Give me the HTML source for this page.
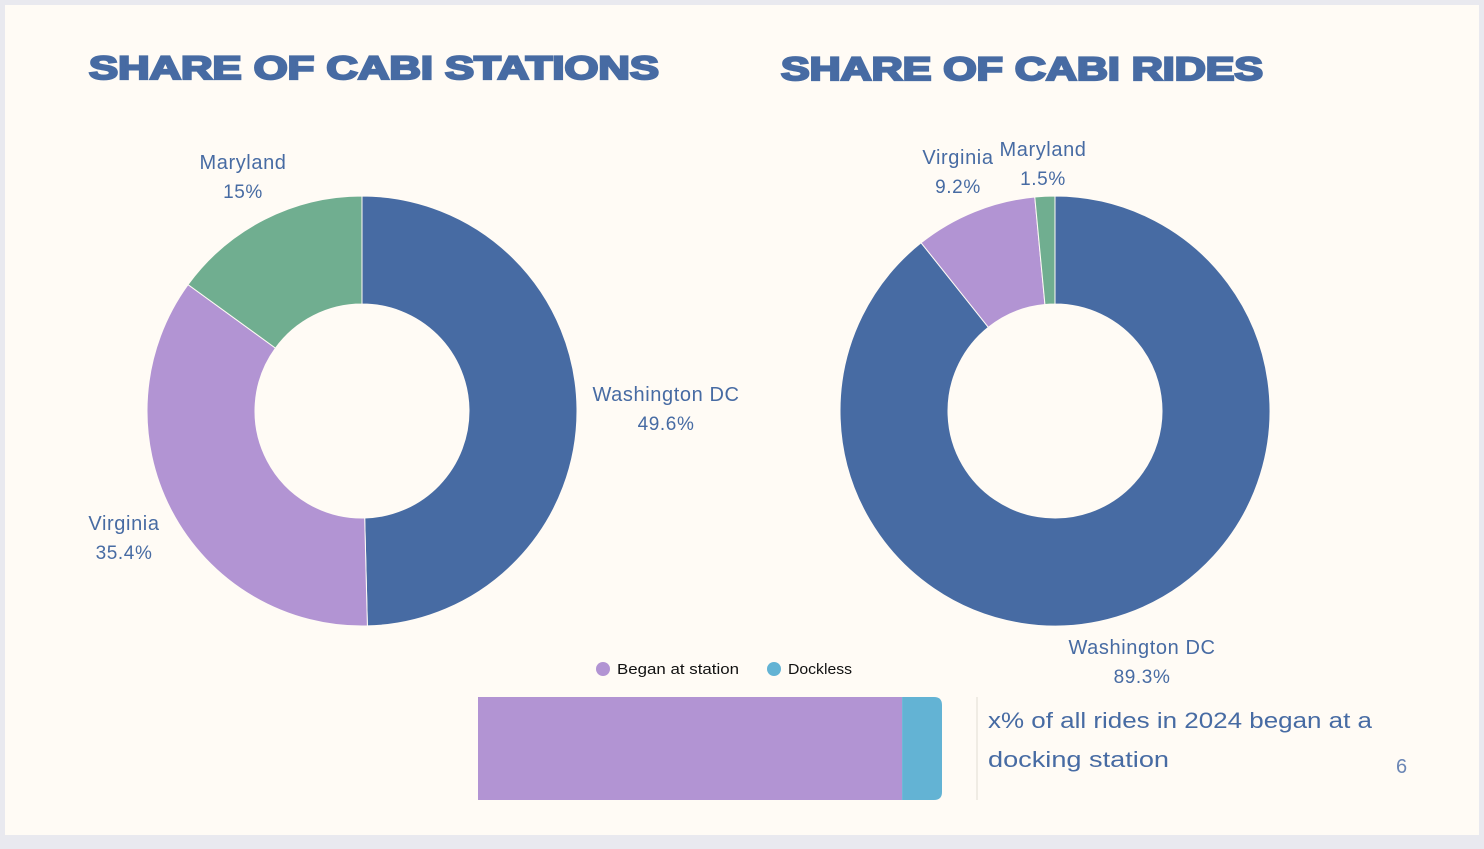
<!DOCTYPE html>
<html><head><meta charset="utf-8">
<style>
html,body{margin:0;padding:0;background:#e9e9ef;}
body{width:1484px;height:844px;overflow:hidden;font-family:"Liberation Sans",sans-serif;}
</style></head>
<body>
<svg id="chart" width="1484" height="844" xmlns="http://www.w3.org/2000/svg">
  <rect x="5" y="5" width="1474" height="830" fill="#fffbf5"/>
  <text x="89" y="79" font-size="32" font-weight="bold" fill="#476ba3" stroke="#476ba3" stroke-width="2.2" textLength="570" lengthAdjust="spacingAndGlyphs">SHARE OF CABI STATIONS</text>
  <text x="781" y="80" font-size="32" font-weight="bold" fill="#476ba3" stroke="#476ba3" stroke-width="2.2" textLength="482" lengthAdjust="spacingAndGlyphs">SHARE OF CABI RIDES</text>
  <g id="donuts"></g>
  <g id="bar"></g>
  <line x1="977" y1="697" x2="977" y2="800" stroke="#ebe6df" stroke-width="1.5"/>
  <text x="988" y="728" font-size="22" fill="#476ba3" textLength="384" lengthAdjust="spacingAndGlyphs">x% of all rides in 2024 began at a</text>
  <text x="988" y="767" font-size="22" fill="#476ba3" textLength="181" lengthAdjust="spacingAndGlyphs">docking station</text>
  <text x="1396" y="773" font-size="20" fill="#6b86b5">6</text>
</svg>
<script>
const regions = ["Washington DC","Virginia","Maryland"];
const stationShares = [49.6,35.4,15];
const rideShares = [89.3,9.2,1.5];
const stationLabels = ["49.6%","35.4%","15%"];
const rideLabels = ["89.3%","9.2%","1.5%"];
const barCategories = ["Began at station","Dockless"];
const barValues = [91.4,8.6];

const NS="http://www.w3.org/2000/svg";
const colors=["#476ba3","#b294d3","#70ae90"];
function mk(t,a,p){const e=document.createElementNS(NS,t);for(const k in a)e.setAttribute(k,a[k]);p.appendChild(e);return e;}
function pt(cx,cy,r,a){return [cx+r*Math.sin(a),cy-r*Math.cos(a)];}
function donut(cx,cy,vals,labels,name,labelPos){
  const g=document.getElementById('donuts');
  const R=215,r=107,tot=vals.reduce((a,b)=>a+b,0);
  let a0=0;
  vals.forEach((v,i)=>{
    const a1=a0+v/tot*2*Math.PI, big=(a1-a0)>Math.PI?1:0;
    const [x1,y1]=pt(cx,cy,R,a0),[x2,y2]=pt(cx,cy,R,a1),[x3,y3]=pt(cx,cy,r,a1),[x4,y4]=pt(cx,cy,r,a0);
    const p=mk('path',{d:`M${x1},${y1}A${R},${R} 0 ${big} 1 ${x2},${y2}L${x3},${y3}A${r},${r} 0 ${big} 0 ${x4},${y4}Z`,fill:colors[i],stroke:'#fffbf5','stroke-width':1},g);
    
    
    const lp=labelPos[i];
    const t1=mk('text',{x:lp[0],y:lp[1],'font-size':20,'letter-spacing':0.6,fill:'#476ba3','text-anchor':'middle'},g);
    t1.textContent=regions[i];
    
    
    const t2=mk('text',{x:lp[0],y:lp[1]+29,'font-size':19,'letter-spacing':0.6,fill:'#476ba3','text-anchor':'middle'},g);
    t2.textContent=labels[i];
    
    
    a0=a1;
  });
}
donut(362,411,stationShares,stationLabels,'stations',[[666,401],[124,530],[243,169]]);
donut(1055,411,rideShares,rideLabels,'rides',[[1142,654],[958,164],[1043,156]]);

const bg=document.getElementById('bar');
const bx=478,bw=464,by=697,bh=103,bcol=["#b294d3","#63b3d4"];
const btot=barValues.reduce((a,b)=>a+b,0);
let cx=bx;
barValues.forEach((v,i)=>{
  const w=v/btot*bw;
  let el;
  if(i===barValues.length-1){
    const rr=8;
    el=mk('path',{d:`M${cx},${by}H${cx+w-rr}Q${cx+w},${by} ${cx+w},${by+rr}V${by+bh-rr}Q${cx+w},${by+bh} ${cx+w-rr},${by+bh}H${cx}Z`,fill:bcol[i]},bg);
  } else el=mk('rect',{x:cx,y:by,width:w,height:bh,fill:bcol[i]},bg);
  
  
  cx+=w;
});
const legX=[603,774];
const legW=[122,64];
barCategories.forEach((c,i)=>{
  const d=mk('circle',{cx:legX[i],cy:669,r:7,fill:bcol[i]},bg);
  
  
  const t=mk('text',{x:legX[i]+14,y:674,'font-size':15,fill:'#111',textLength:legW[i],lengthAdjust:'spacingAndGlyphs'},bg);
  t.textContent=c;
  
  
});
</script>
</body></html>
